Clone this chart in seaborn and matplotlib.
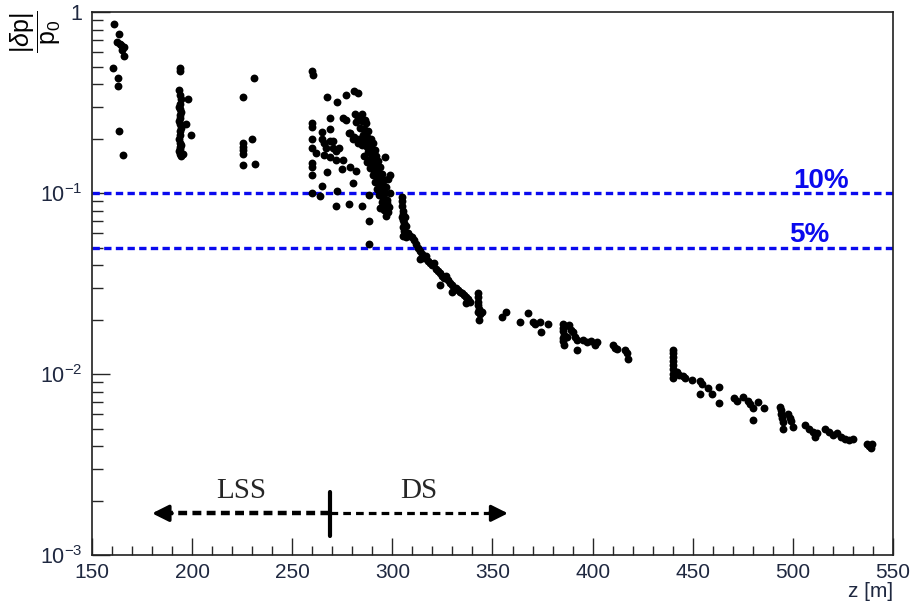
import matplotlib
matplotlib.use("Agg")
import matplotlib.pyplot as plt
from matplotlib.ticker import MultipleLocator, LogLocator, FixedFormatter, FixedLocator, NullFormatter
import numpy as np
import seaborn as sns
import pandas as pd

# (z [m], |dp|/p0), one list per cluster
near_ip = [(161, 0.86), (163.5, 0.755), (162.5, 0.68), (164.5, 0.66), (166, 0.64), (166, 0.57),
           (160.5, 0.49), (163, 0.43), (163, 0.39), (163.5, 0.22), (165.5, 0.162), (165, 0.62), (164, 0.67)]

cluster_194 = [(194, 0.49), (194, 0.47), (193.5, 0.37), (194, 0.35), (194.5, 0.33), (194, 0.31), (193.5, 0.30),
               (194, 0.29), (194.5, 0.28), (194, 0.27), (194, 0.26), (193.5, 0.25), (194, 0.24), (194.5, 0.23),
               (194, 0.22), (194, 0.21), (193.5, 0.20), (194, 0.19), (194.5, 0.185), (194, 0.18), (194, 0.175),
               (193.5, 0.17), (194, 0.165), (194.5, 0.16), (198, 0.33), (197, 0.24), (199.5, 0.21), (195.5, 0.165)]

cluster_228 = [(225.5, 0.34), (231, 0.43), (230, 0.20), (225.5, 0.19), (225.5, 0.18), (225.5, 0.172),
               (225.5, 0.165), (225.5, 0.143), (231.5, 0.144)]

cloud_lss = [(260, 0.47), (260.5, 0.45), (267.6, 0.34), (272.4, 0.317), (277, 0.35), (281, 0.366), (283, 0.358),
             (260, 0.244), (260, 0.232), (269, 0.26), (264.7, 0.217), (269, 0.227), (275.3, 0.26), (277, 0.253),
             (281.3, 0.275), (284.7, 0.275), (282, 0.246), (286.3, 0.253), (260, 0.198), (260, 0.178), (265, 0.2),
             (266, 0.19), (269, 0.195), (270.5, 0.195), (267, 0.177), (270.5, 0.177), (273.5, 0.177), (272, 0.17),
             (262, 0.166), (265.7, 0.162), (269, 0.159), (272, 0.152), (275.5, 0.152), (278.5, 0.215), (280.5, 0.2),
             (283, 0.19), (260, 0.146), (260, 0.14), (260, 0.126), (267.3, 0.131), (274.8, 0.135), (279, 0.14),
             (282, 0.132), (264.7, 0.11), (260, 0.10), (264, 0.096), (272.4, 0.102), (280.5, 0.113), (271.7, 0.085),
             (278.3, 0.087), (284.7, 0.085), (288.5, 0.097), (288.5, 0.07), (288.5, 0.052)]

band_lss = [(283, 0.26), (285, 0.25), (287, 0.245), (284, 0.23), (286, 0.225), (288, 0.22), (285.5, 0.21),
            (287.5, 0.205), (289.5, 0.2), (283.5, 0.2), (286.5, 0.195), (288.5, 0.19), (290.5, 0.188), (285, 0.185),
            (287.5, 0.18), (289.5, 0.175), (291.5, 0.172), (288, 0.168), (290, 0.163), (292, 0.16), (286, 0.16),
            (289, 0.155), (291, 0.152), (293, 0.15), (287.5, 0.148), (290, 0.145), (292, 0.142), (294, 0.14),
            (289, 0.137), (291, 0.133), (293, 0.13), (295, 0.128), (290.5, 0.125), (292.5, 0.122), (294.5, 0.12),
            (296, 0.118), (291.5, 0.115), (293.5, 0.112), (295.5, 0.11), (297, 0.108), (292.5, 0.105),
            (294.5, 0.102), (296.5, 0.1), (293.5, 0.097), (295.5, 0.094), (297.5, 0.092), (295, 0.089),
            (297, 0.086), (298.5, 0.084), (296, 0.081), (298, 0.079), (297, 0.075), (294, 0.083), (297.5, 0.088),
            (299, 0.1), (298, 0.12), (296.5, 0.158), (299, 0.126), (279, 0.215), (281, 0.205), (283, 0.196),
            (285, 0.188)]

step_ds = [(305, 0.095), (305, 0.09), (305, 0.085), (305.5, 0.08), (305.5, 0.077), (305, 0.074), (305.5, 0.071),
           (306, 0.068), (305.5, 0.065), (306, 0.062), (306.5, 0.06), (305.5, 0.058), (307, 0.057), (306.5, 0.074),
           (307, 0.066), (308, 0.06), (309, 0.058), (310, 0.057)]

slope_ds = [(311, 0.055), (312, 0.052), (313, 0.05), (314, 0.048), (315, 0.046), (314, 0.043), (316, 0.044),
            (317, 0.045), (318, 0.042), (319, 0.041), (320, 0.04), (321, 0.041), (322, 0.038), (323, 0.037),
            (324, 0.036), (323.8, 0.031), (325, 0.035), (326, 0.034), (327, 0.035), (328, 0.033), (329, 0.032),
            (330, 0.031), (331, 0.03), (330, 0.0284), (332, 0.03), (333, 0.029), (334, 0.0285), (335, 0.028),
            (336, 0.0273), (337, 0.0265), (338, 0.026), (337, 0.0247), (339, 0.025),
            (343, 0.028), (343, 0.0265), (343, 0.025), (343, 0.024), (343.5, 0.023), (343, 0.022), (344, 0.0215),
            (343.5, 0.0198), (345, 0.022)]

mid_ds = [(354.7, 0.0206), (356.7, 0.022), (363.7, 0.0194), (367.7, 0.0216), (370, 0.0194), (373.5, 0.0194),
          (377.5, 0.019), (374, 0.0171), (371, 0.0188), (385, 0.019), (385, 0.018), (385, 0.0172), (385.5, 0.0165),
          (385, 0.0158), (385, 0.0152), (385.5, 0.0145), (386, 0.0185), (388, 0.0187), (389, 0.0175), (390, 0.017),
          (391, 0.016), (392, 0.0155), (392, 0.0136), (387, 0.016), (395, 0.0154), (397, 0.015), (399, 0.0152),
          (401, 0.0145), (402, 0.015), (410, 0.0145), (411, 0.014), (412, 0.0138), (416, 0.0135), (417, 0.013),
          (417.7, 0.0121)]

far_ds = [(440, 0.0136), (440, 0.013), (440, 0.0124), (440, 0.0118), (440, 0.0112), (440, 0.0106), (440, 0.01),
          (440, 0.0095), (442, 0.0103), (443, 0.0099), (445, 0.0097), (446, 0.0095), (449.6, 0.0093),
          (453.6, 0.0091), (454.5, 0.0088), (453.6, 0.0078), (457.6, 0.0084), (459.6, 0.0078), (463, 0.0085),
          (463, 0.0069), (470.5, 0.0074), (472, 0.0071), (475, 0.0075), (477.6, 0.0071), (478.6, 0.0068),
          (480, 0.0065), (482.6, 0.007), (485.6, 0.0065), (480, 0.0056), (493.6, 0.0066), (494, 0.0063),
          (494, 0.006), (494.5, 0.0057), (495, 0.0054), (495, 0.005), (497.6, 0.006), (498.5, 0.0057),
          (499, 0.0055), (500, 0.0051), (506, 0.0052), (508, 0.005), (510, 0.0048), (512, 0.0047), (511, 0.0045),
          (516, 0.005), (518, 0.0048), (520, 0.0046), (522, 0.0047), (524, 0.0045), (526, 0.0044), (528, 0.0043),
          (530, 0.0044), (537, 0.0041), (538, 0.004), (539.5, 0.0041), (539, 0.0039)]

thresholds = [0.10, 0.05]
threshold_labels = ["10%", "5%"]
x_ticks = [150, 200, 250, 300, 350, 400, 450, 500, 550]
y_ticks = [1e-3, 1e-2, 1e-1, 1]
y_tick_labels = [r"$10^{-3}$", r"$10^{-2}$", r"$10^{-1}$", "1"]
lss_ds_boundary = 269

points = near_ip + cluster_194 + cluster_228 + cloud_lss + band_lss + step_ds + slope_ds + mid_ds + far_ds
df = pd.DataFrame(points, columns=["z", "dp"])

sns.set_style("ticks")
plt.rcParams['font.family'] = ['Liberation Sans', 'DejaVu Sans']
plt.rcParams['mathtext.fontset'] = 'custom'
plt.rcParams['mathtext.rm'] = 'Liberation Sans'
plt.rcParams['mathtext.it'] = 'Liberation Sans:italic'
plt.rcParams['mathtext.bf'] = 'Liberation Sans:bold'

label_col = '#1f2840'

fig = plt.figure(figsize=(9.1, 6.05), dpi=100)
ax = fig.add_axes([0.1011, 0.0826, 0.8802, 0.8975])

sns.scatterplot(data=df, x="z", y="dp", color="black", s=32, linewidth=0, ax=ax, zorder=3)

ax.set_yscale("log")
ax.set_xlim(150, 550)
ax.set_ylim(1e-3, 1)

# threshold lines
for thr, lab in zip(thresholds, threshold_labels):
    ax.axhline(thr, color="#0a0aee", lw=2.4, linestyle=(0, (2.2, 1.3)), zorder=2)
    ax.text(500 if lab == "10%" else 498, thr * 1.07, lab, color="#0a0aee", fontsize=20,
            fontweight="bold", ha="left", va="baseline")

# ticks
ax.xaxis.set_major_locator(FixedLocator(x_ticks))
ax.xaxis.set_minor_locator(MultipleLocator(10))
ax.yaxis.set_major_locator(FixedLocator(y_ticks))
ax.yaxis.set_major_formatter(FixedFormatter(y_tick_labels))
ax.yaxis.set_minor_locator(LogLocator(base=10, subs=np.arange(2, 10)))
ax.yaxis.set_minor_formatter(NullFormatter())
ax.tick_params(axis="x", which="major", direction="in", length=12, width=1, labelsize=15,
               labelcolor=label_col, pad=6, top=False)
ax.tick_params(axis="x", which="minor", direction="in", length=6.5, width=1, top=False)
ax.tick_params(axis="y", which="major", direction="in", length=13, width=1, labelsize=15.5,
               labelcolor=label_col, pad=7, right=False)
ax.tick_params(axis="y", which="minor", direction="in", length=8, width=1, right=False)
for sp in ax.spines.values():
    sp.set_color("#202020")
    sp.set_linewidth(1.2)

ax.set_xlabel("")
ax.set_ylabel("")
fig.text(0.981, 0.0135, "z [m]", ha="right", va="baseline", fontsize=15, color=label_col)
fig.text(0.039, 0.948, r"$\dfrac{|\delta \mathrm{p}|}{\mathrm{p}_0}$", rotation=90, ha="center",
         va="center", fontsize=18, color="black")

# LSS / DS region markers
y_arrow = 0.0017
ax.plot([186, lss_ds_boundary], [y_arrow, y_arrow], color="black", lw=3.2, linestyle=(0, (2.0, 1.2)),
        zorder=4)
ax.plot([lss_ds_boundary, 352], [y_arrow, y_arrow], color="black", lw=2.3, linestyle=(0, (2.4, 1.6)),
        zorder=4)
ax.annotate("", xy=(180, y_arrow), xytext=(190, y_arrow),
            arrowprops=dict(arrowstyle="-|>,head_length=1.0,head_width=0.5", color="black", lw=2.5,
                            shrinkA=0, shrinkB=0), zorder=4)
ax.annotate("", xy=(357.7, y_arrow), xytext=(348, y_arrow),
            arrowprops=dict(arrowstyle="-|>,head_length=1.0,head_width=0.5", color="black", lw=2.3,
                            shrinkA=0, shrinkB=0), zorder=4)
ax.plot([lss_ds_boundary, lss_ds_boundary], [0.00127, 0.00224], color="black", lw=3, zorder=4)
ax.text(224.5, 0.00226, "LSS", family="Liberation Serif", fontsize=21, ha="center", va="center")
ax.text(313.3, 0.00226, "DS", family="Liberation Serif", fontsize=21, ha="center", va="center")

fig.savefig("out.png", dpi=100, facecolor="white")
